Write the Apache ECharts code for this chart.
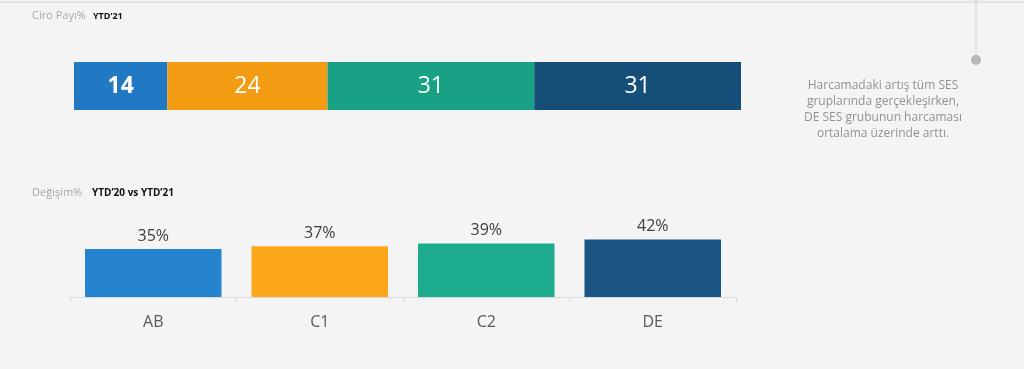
<!DOCTYPE html>
<html>
<head>
<meta charset="utf-8">
<script src="https://cdn.jsdelivr.net/npm/echarts@6/dist/echarts.min.js"></script>
<style>
  html, body { margin: 0; padding: 0; background: #f4f4f4; }
  #chart { width: 1024px; height: 369px; }
</style>
</head>
<body>
<div id="chart"></div>
<script>
const groups = ["AB", "C1", "C2", "DE"];
const colors = ["#2179c4", "#f29b13", "#18a185", "#164e7a"];
const barColors = ["#2683cd", "#fca61c", "#1cab8d", "#1a5583"];
const shareValues = [14, 24, 31, 31];
const changeValues = [35, 37, 39, 42];
const noteLines = [
  "Harcamadaki artış tüm SES",
  "gruplarında gerçekleşirken,",
  "DE SES grubunun harcaması",
  "ortalama üzerinde arttı."
];

const font = "'Open Sans', sans-serif";
const chart = echarts.init(document.getElementById("chart"));

const shareSeries = groups.map((g, i) => ({
  type: "bar",
  name: g,
  stack: "share",
  xAxisIndex: 0,
  yAxisIndex: 0,
  barWidth: 48,
  data: [shareValues[i]],
  itemStyle: { color: colors[i] },
  label: {
    show: true,
    position: "inside",
    color: "#ffffff",
    fontFamily: font,
    fontSize: 23,
    fontWeight: i === 0 ? "bold" : "normal",
    formatter: "{c}"
  },
  silent: true
}));

chart.setOption({
  backgroundColor: "#f4f4f4",
  animation: false,
  grid: [
    { left: 74, top: 62, width: 667, height: 48 },
    { left: 70, top: 160, width: 666, height: 137 }
  ],
  xAxis: [
    { gridIndex: 0, type: "value", min: 0, max: 100, show: false },
    {
      gridIndex: 1,
      type: "category",
      data: groups,
      axisLine: { lineStyle: { color: "#d9d9d9" } },
      axisTick: { show: true, length: 5, lineStyle: { color: "#d9d9d9" } },
      axisLabel: { color: "#595959", fontFamily: font, fontSize: 16, margin: 17 }
    }
  ],
  yAxis: [
    { gridIndex: 0, type: "category", data: [""], show: false },
    { gridIndex: 1, type: "value", min: 0, max: 100, show: false }
  ],
  series: shareSeries.concat([{
    type: "bar",
    xAxisIndex: 1,
    yAxisIndex: 1,
    barCategoryGap: "18%",
    data: changeValues.map((v, i) => ({ value: v, itemStyle: { color: barColors[i] } })),
    label: {
      show: true,
      position: "top",
      distance: 5,
      color: "#404040",
      fontFamily: font,
      fontSize: 16,
      formatter: "{c}%"
    },
    silent: true
  }]),
  graphic: [
    { type: "line", shape: { x1: 0, y1: 2, x2: 1024, y2: 2 }, style: { stroke: "#e4e4e4", lineWidth: 2 } },
    { type: "text", left: 32, top: 10, style: { text: "Ciro Payı%", fill: "#a6a6a6", font: "11px " + font } },
    { type: "text", left: 93, top: 12, style: { text: "YTD’21", fill: "#111111", font: "bold 9px " + font } },
    { type: "text", left: 32, top: 187, style: { text: "Değişim%", fill: "#a6a6a6", font: "11px " + font } },
    { type: "text", left: 92, top: 188, style: { text: "YTD’20 vs YTD’21", fill: "#111111", font: "bold 10px " + font } },
    { type: "line", shape: { x1: 976, y1: 0, x2: 976, y2: 56 }, style: { stroke: "#b5b5b5", lineWidth: 1, lineDash: [1, 1] } },
    { type: "circle", shape: { cx: 976, cy: 60, r: 5 }, style: { fill: "#b8b8b8" } },
    {
      type: "text",
      x: 883,
      y: 77,
      style: {
        text: noteLines.join("\n"),
        fill: "#929292",
        font: "12px " + font,
        lineHeight: 16.3,
        align: "center"
      }
    }
  ]
});
</script>
</body>
</html>
